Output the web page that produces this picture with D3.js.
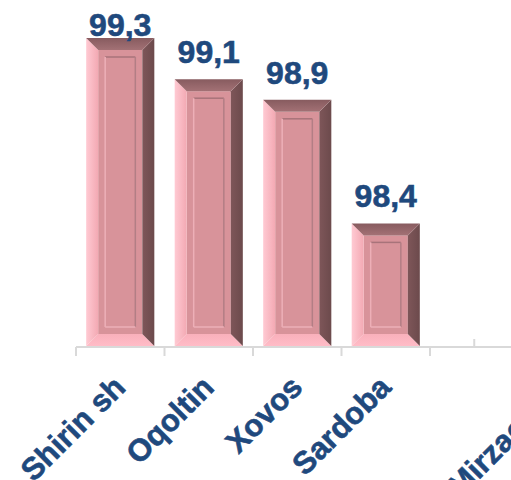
<html>
<head>
<meta charset="utf-8">
<style>
  html, body { margin: 0; padding: 0; background: #fff; overflow: hidden; }
  svg { display: block; }
  text { font-family: "Liberation Sans", Arial, sans-serif; font-weight: bold; fill: #1F497D; stroke: #1F497D; stroke-width: 0.6px; }
</style>
</head>
<body>
<svg id="chart" width="511" height="480"></svg>
<script src="https://cdn.jsdelivr.net/npm/d3@7/dist/d3.min.js"></script>
<script>
// categories (the last two slots have no bar in the visible crop)
var categories = ["Shirin sh", "Oqoltin", "Xovos", "Sardoba", "", "Mirzaobod"];
// bar heights
var values = [99.3, 99.1, 99.0, 98.4, null, null];
// labels printed above the bars
var valueLabels = ["99,3", "99,1", "98,9", "98,4", "", ""];

var svg = d3.select("#chart");
var base = 347;

var x = d3.scaleBand()
  .domain(categories)
  .range([76, 607])
  .paddingInner(0.23)
  .paddingOuter(0.115);

var y = d3.scaleLinear()
  .domain([97.8, 99.3])
  .range([base, 38]);

var step = x.step();
var bw = x.bandwidth();

// gradients
var defs = svg.append("defs");
function grad(id, x2, y2, c1, c2) {
  var g = defs.append("linearGradient").attr("id", id)
    .attr("x1", 0).attr("y1", 0).attr("x2", x2).attr("y2", y2);
  g.append("stop").attr("offset", "0%").attr("stop-color", c1);
  g.append("stop").attr("offset", "100%").attr("stop-color", c2);
}
grad("gLeft", 1, 0, "#FFCAD3", "#F3A9B3");
grad("gTop", 0, 1, "#875B5F", "#A37175");
grad("gRight", 1, 0, "#7E5659", "#6C4A4C");
grad("gBottom", 0, 1, "#F9B0BB", "#FFBCC7");

// axis line and ticks
svg.append("line")
  .attr("x1", 76).attr("x2", 511)
  .attr("y1", base).attr("y2", base)
  .attr("stroke", "#D9D9D9").attr("stroke-width", 2);

svg.selectAll(".tickB").data(categories.concat(["_end"]))
  .enter().append("line")
  .attr("class", "tickB")
  .attr("x1", function(d, i) { return 76 + i * step; })
  .attr("x2", function(d, i) { return 76 + i * step; })
  .attr("y1", base).attr("y2", base + 9)
  .attr("stroke", "#D9D9D9").attr("stroke-width", 2);

svg.selectAll(".tickC").data(categories)
  .enter().append("line")
  .attr("class", "tickC")
  .attr("x1", function(d) { return x(d) + bw / 2; })
  .attr("x2", function(d) { return x(d) + bw / 2; })
  .attr("y1", base - 8).attr("y2", base)
  .attr("stroke", "#D9D9D9").attr("stroke-width", 2);

// bars with bevel
var b = 12;
var bars = svg.selectAll(".bar")
  .data(categories.map(function(c, i) { return { c: c, v: values[i], l: valueLabels[i] }; })
    .filter(function(d) { return d.v != null; }))
  .enter().append("g").attr("class", "bar");

function pts(arr) { return arr.map(function(p) { return p.join(","); }).join(" "); }

bars.each(function(d) {
  var g = d3.select(this);
  var x0 = x(d.c), x1 = x0 + bw, y0 = y(d.v), y1 = base - 1;
  g.append("rect").attr("x", x0 + b).attr("y", y0 + b)
    .attr("width", bw - 2 * b).attr("height", y1 - y0 - 2 * b)
    .attr("fill", "#D8939A");
  g.append("polygon").attr("points", pts([[x0, y1], [x1, y1], [x1 - b, y1 - b], [x0 + b, y1 - b]]))
    .attr("fill", "url(#gBottom)");
  g.append("polygon").attr("points", pts([[x0, y0], [x0 + b, y0 + b], [x0 + b, y1 - b], [x0, y1]]))
    .attr("fill", "url(#gLeft)");
  g.append("polygon").attr("points", pts([[x1, y0], [x1, y1], [x1 - b, y1 - b], [x1 - b, y0 + b]]))
    .attr("fill", "url(#gRight)");
  g.append("polygon").attr("points", pts([[x0, y0], [x1, y0], [x1 - b, y0 + b], [x0 + b, y0 + b]]))
    .attr("fill", "url(#gTop)");
  // inner panel
  var i0 = x0 + b + 7, i1 = x1 - b - 7, j0 = y0 + b + 7, j1 = y1 - b - 7;
  g.append("line").attr("x1", i0).attr("x2", i1).attr("y1", j0).attr("y2", j0)
    .attr("stroke", "#A8737A").attr("stroke-width", 1.5);
  g.append("line").attr("x1", i1).attr("x2", i1).attr("y1", j0).attr("y2", j1)
    .attr("stroke", "#B27E85").attr("stroke-width", 1.5);
  g.append("line").attr("x1", i0).attr("x2", i0).attr("y1", j0).attr("y2", j1)
    .attr("stroke", "#EDAFB7").attr("stroke-width", 1.5);
  g.append("line").attr("x1", i0).attr("x2", i1).attr("y1", j1).attr("y2", j1)
    .attr("stroke", "#EDAFB7").attr("stroke-width", 1.5);
});

// value labels (kept inside the top of the plot)
bars.append("text")
  .attr("x", function(d) { return x(d.c) + bw / 2; })
  .attr("y", function(d) { return Math.max(y(d.v) - 16, 36); })
  .attr("text-anchor", "middle")
  .style("font-size", "32px")
  .text(function(d) { return d.l; });

// category labels
svg.selectAll(".cat").data(categories)
  .enter().append("text")
  .attr("class", "cat")
  .attr("text-anchor", "end")
  .style("font-size", "31px")
  .attr("transform", function(d) {
    return "translate(" + (x(d) + bw / 2 + 7) + "," + 389 + ") rotate(-45)";
  })
  .text(function(d) { return d; });
</script>
</body>
</html>
